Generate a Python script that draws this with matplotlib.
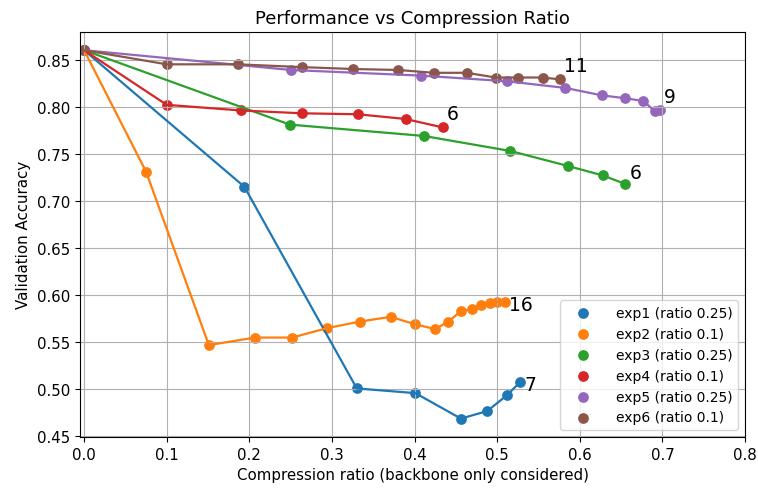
import matplotlib
matplotlib.use("Agg")
import matplotlib.pyplot as plt

# compression ratio / validation accuracy per experiment
exp1_x = [0.0, 0.194, 0.330, 0.401, 0.456, 0.488, 0.512, 0.528]
exp1_y = [0.860, 0.715, 0.501, 0.496, 0.469, 0.477, 0.494, 0.508]

exp2_x = [0.0, 0.075, 0.151, 0.207, 0.252, 0.294, 0.334, 0.371, 0.401,
          0.425, 0.441, 0.456, 0.469, 0.480, 0.491, 0.500, 0.509]
exp2_y = [0.860, 0.731, 0.547, 0.555, 0.555, 0.565, 0.572, 0.577, 0.569,
          0.564, 0.572, 0.583, 0.585, 0.590, 0.592, 0.593, 0.593]

exp3_x = [0.0, 0.249, 0.411, 0.516, 0.586, 0.628, 0.655]
exp3_y = [0.860, 0.781, 0.769, 0.753, 0.737, 0.727, 0.718]

exp4_x = [0.0, 0.100, 0.190, 0.264, 0.331, 0.389, 0.434]
exp4_y = [0.860, 0.802, 0.796, 0.793, 0.792, 0.787, 0.778]

exp5_x = [0.0, 0.250, 0.408, 0.512, 0.582, 0.627, 0.655, 0.677, 0.691, 0.697]
exp5_y = [0.860, 0.839, 0.833, 0.827, 0.820, 0.812, 0.809, 0.806, 0.795, 0.796]

exp6_x = [0.0, 0.100, 0.186, 0.264, 0.326, 0.380, 0.423, 0.463, 0.498,
          0.525, 0.555, 0.576]
exp6_y = [0.860, 0.845, 0.845, 0.842, 0.840, 0.839, 0.836, 0.836, 0.831,
          0.831, 0.831, 0.829]

names = ["exp1 (ratio 0.25)", "exp2 (ratio 0.1)", "exp3 (ratio 0.25)",
         "exp4 (ratio 0.1)", "exp5 (ratio 0.25)", "exp6 (ratio 0.1)"]
xs = [exp1_x, exp2_x, exp3_x, exp4_x, exp5_x, exp6_x]
ys = [exp1_y, exp2_y, exp3_y, exp4_y, exp5_y, exp6_y]

# offsets (points) for the last-index labels
label_offsets = [(3, -6), (3, -6), (3, 4), (3, 6), (3, 6), (3, 6)]

plt.rcParams["font.size"] = 10.8

fig = plt.figure(figsize=(7.58, 4.89), dpi=100)
ax = fig.add_axes([0.1055, 0.1043, 0.8775, 0.8287])

for i in range(6):
    color = "C%d" % i
    ax.scatter(xs[i], ys[i], color=color, s=45, label=names[i])
    ax.plot(xs[i], ys[i], color=color, linewidth=1.6)
    ax.annotate(str(len(xs[i]) - 1), (xs[i][-1], ys[i][-1]),
                xytext=label_offsets[i], textcoords="offset points",
                fontsize=13.5)

ax.set_xlim(-0.005, 0.8)
ax.set_title("Performance vs Compression Ratio", fontsize=13)
ax.set_xlabel("Compression ratio (backbone only considered)")
ax.set_ylabel("Validation Accuracy")
ax.grid(True)
ax.legend(loc="lower right", fontsize=10, handlelength=2.4,
          handletextpad=1.2)

fig.savefig("out.png", dpi=100)
